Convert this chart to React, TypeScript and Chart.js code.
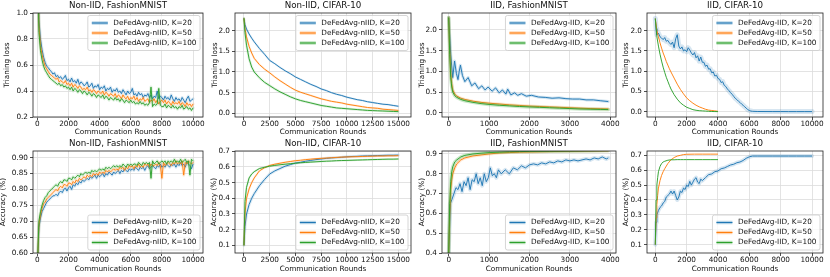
import React, { useEffect, useRef } from "react";
import { Chart, registerables } from "chart.js";

Chart.register(...registerables);

const FONT = "'DejaVu Sans', 'Liberation Sans', sans-serif";
const C_BLUE = "#1f77b4";
const C_ORANGE = "#ff7f0e";
const C_GREEN = "#2ca02c";

// ---------- tick values ----------
const XTICKS_10K = [0, 2000, 4000, 6000, 8000, 10000];
const XTICKS_15K = [0, 2500, 5000, 7500, 10000, 12500, 15000];
const XTICKS_4K = [0, 1000, 2000, 3000, 4000];
const YTICKS_LOSS_NIID_FMNIST = [0.2, 0.4, 0.6, 0.8, 1.0];
const YTICKS_LOSS = [0.0, 0.5, 1.0, 1.5, 2.0];
const YTICKS_ACC_NIID_FMNIST = [0.6, 0.65, 0.7, 0.75, 0.8, 0.85, 0.9];
const YTICKS_ACC_CIFAR = [0.1, 0.2, 0.3, 0.4, 0.5, 0.6, 0.7];
const YTICKS_ACC_IID_FMNIST = [0.4, 0.5, 0.6, 0.7, 0.8, 0.9];

const LABELS_NIID = ["DeFedAvg-nIID, K=20", "DeFedAvg-nIID, K=50", "DeFedAvg-nIID, K=100"];
const LABELS_IID = ["DeFedAvg-IID, K=20", "DeFedAvg-IID, K=50", "DeFedAvg-IID, K=100"];

// ---------- rounds ----------
const ROUNDS_10K = [0,100,200,300,400,500,600,700,800,900,1000,1100,1200,1300,1400,1500,1600,1700,1800,1900,2000,2100,2200,2300,2400,2500,2600,2700,2800,2900,3000,3100,3200,3300,3400,3500,3600,3700,3800,3900,4000,4100,4200,4300,4400,4500,4600,4700,4800,4900,5000,5100,5200,5300,5400,5500,5600,5700,5800,5900,6000,6100,6200,6300,6400,6500,6600,6700,6800,6900,7000,7100,7200,7300,7400,7500,7600,7700,7800,7900,8000,8100,8200,8300,8400,8500,8600,8700,8800,8900,9000,9100,9200,9300,9400,9500,9600,9700,9800,9900,10000];
const ROUNDS_15K = [0,100,250,500,750,1000,1500,2000,2500,3000,3500,4000,4500,5000,5500,6000,6500,7000,7500,8000,8500,9000,9500,10000,10500,11000,11500,12000,12500,13000,13500,14000,14500,15000];

// ---------- Non-IID FashionMNIST: training loss ----------
const NF_LOSS_K20 = [1.60,0.95,0.80,0.72,0.66,0.62,0.59,0.58,0.56,0.55,0.53,
0.54,0.51,0.52,0.50,0.51,0.49,0.50,0.52,0.48,0.49,
0.47,0.50,0.47,0.48,0.46,0.49,0.45,0.47,0.46,0.44,
0.45,0.47,0.43,0.44,0.46,0.42,0.44,0.43,0.45,0.41,
0.43,0.42,0.44,0.40,0.42,0.41,0.43,0.39,0.41,0.40,
0.42,0.39,0.40,0.38,0.41,0.39,0.37,0.40,0.38,0.39,
0.42,0.37,0.38,0.36,0.39,0.37,0.38,0.35,0.37,0.36,
0.38,0.35,0.37,0.34,0.36,0.35,0.40,0.34,0.36,0.35,
0.33,0.36,0.34,0.35,0.33,0.37,0.34,0.32,0.35,0.33,
0.34,0.32,0.35,0.33,0.31,0.34,0.36,0.32,0.33,0.34];
const NF_LOSS_K50 = [1.60,0.90,0.75,0.68,0.63,0.59,0.57,0.55,0.53,0.52,0.51,
0.50,0.49,0.50,0.47,0.48,0.47,0.46,0.48,0.45,0.46,
0.44,0.46,0.43,0.45,0.44,0.42,0.44,0.43,0.41,0.42,
0.41,0.43,0.40,0.41,0.39,0.41,0.40,0.38,0.40,0.39,
0.38,0.40,0.37,0.39,0.38,0.36,0.38,0.37,0.36,0.38,
0.35,0.37,0.36,0.34,0.37,0.35,0.34,0.36,0.33,0.35,
0.34,0.36,0.33,0.35,0.32,0.34,0.33,0.35,0.32,0.33,
0.34,0.31,0.33,0.32,0.34,0.31,0.33,0.30,0.32,0.33,
0.31,0.33,0.30,0.32,0.31,0.29,0.32,0.30,0.31,0.30,
0.32,0.29,0.31,0.30,0.28,0.31,0.29,0.30,0.28,0.30];
const NF_LOSS_K100 = [1.60,0.85,0.71,0.64,0.59,0.56,0.54,0.52,0.50,0.49,0.48,
0.47,0.46,0.45,0.46,0.44,0.45,0.43,0.44,0.42,0.43,
0.41,0.43,0.40,0.42,0.41,0.39,0.41,0.40,0.38,0.40,
0.39,0.37,0.39,0.38,0.36,0.38,0.37,0.35,0.37,0.36,
0.35,0.37,0.34,0.36,0.35,0.33,0.35,0.34,0.33,0.35,
0.33,0.34,0.32,0.34,0.33,0.31,0.33,0.32,0.31,0.33,
0.31,0.32,0.30,0.31,0.30,0.32,0.30,0.31,0.29,0.30,
0.29,0.31,0.43,0.28,0.30,0.29,0.30,0.42,0.29,0.28,
0.28,0.30,0.27,0.29,0.28,0.27,0.29,0.27,0.28,0.26,
0.28,0.27,0.29,0.26,0.27,0.28,0.26,0.27,0.25,0.27];

// ---------- Non-IID FashionMNIST: accuracy ----------
const NF_ACC_K20 = [0.55,0.68,0.71,0.73,0.74,0.75,0.76,0.765,0.77,0.775,0.78,
0.78,0.785,0.78,0.79,0.795,0.79,0.80,0.805,0.795,0.805,
0.81,0.80,0.815,0.81,0.82,0.815,0.825,0.82,0.83,0.825,
0.83,0.835,0.83,0.84,0.835,0.84,0.845,0.835,0.845,0.84,
0.845,0.85,0.84,0.85,0.845,0.855,0.85,0.845,0.855,0.85,
0.855,0.86,0.85,0.86,0.855,0.865,0.86,0.855,0.865,0.86,
0.865,0.86,0.87,0.865,0.86,0.87,0.865,0.87,0.86,0.87,
0.875,0.865,0.87,0.875,0.87,0.865,0.875,0.87,0.88,0.87,
0.875,0.87,0.88,0.875,0.87,0.88,0.875,0.88,0.87,0.88,
0.875,0.885,0.875,0.88,0.87,0.885,0.88,0.875,0.865,0.88];
const NF_ACC_K50 = [0.55,0.69,0.72,0.74,0.755,0.76,0.77,0.775,0.78,0.785,0.79,
0.795,0.80,0.795,0.805,0.81,0.805,0.815,0.815,0.81,0.82,
0.82,0.815,0.825,0.82,0.83,0.825,0.835,0.83,0.835,0.84,
0.835,0.845,0.84,0.845,0.84,0.85,0.845,0.85,0.845,0.855,
0.85,0.855,0.85,0.86,0.855,0.86,0.855,0.86,0.865,0.86,
0.865,0.86,0.87,0.865,0.87,0.86,0.87,0.865,0.875,0.87,
0.875,0.865,0.875,0.87,0.88,0.87,0.875,0.87,0.88,0.875,
0.88,0.87,0.88,0.875,0.875,0.88,0.875,0.885,0.875,0.835,
0.885,0.875,0.88,0.885,0.88,0.875,0.885,0.88,0.89,0.88,
0.885,0.88,0.89,0.845,0.885,0.88,0.89,0.885,0.88,0.885];
const NF_ACC_K100 = [0.55,0.70,0.73,0.75,0.765,0.775,0.78,0.79,0.795,0.80,0.805,
0.81,0.815,0.81,0.82,0.825,0.82,0.83,0.83,0.825,0.835,
0.835,0.83,0.84,0.835,0.84,0.845,0.84,0.85,0.845,0.85,
0.855,0.85,0.855,0.85,0.86,0.855,0.86,0.855,0.86,0.865,
0.86,0.865,0.86,0.87,0.865,0.87,0.865,0.87,0.875,0.87,
0.875,0.87,0.875,0.87,0.88,0.875,0.87,0.88,0.875,0.88,
0.875,0.88,0.88,0.875,0.885,0.88,0.875,0.885,0.88,0.885,
0.88,0.885,0.835,0.89,0.88,0.885,0.89,0.88,0.885,0.89,
0.885,0.89,0.88,0.89,0.885,0.89,0.885,0.895,0.885,0.89,
0.885,0.895,0.885,0.89,0.895,0.885,0.89,0.845,0.895,0.89];

// ---------- Non-IID CIFAR-10 ----------
const NC_LOSS_K20 = [2.30,2.15,2.04,1.92,1.82,1.73,1.57,1.43,1.28,1.20,1.11,1.03,0.96,0.88,0.82,0.76,0.70,0.65,0.59,0.55,0.50,0.46,0.43,0.39,0.36,0.33,0.31,0.28,0.26,0.24,0.22,0.21,0.19,0.17];
const NC_LOSS_K50 = [2.30,2.05,1.85,1.62,1.46,1.33,1.18,1.07,0.98,0.88,0.79,0.71,0.63,0.56,0.51,0.47,0.43,0.39,0.35,0.32,0.29,0.27,0.25,0.22,0.20,0.18,0.16,0.14,0.13,0.12,0.10,0.09,0.08,0.07];
const NC_LOSS_K100 = [2.30,1.95,1.65,1.32,1.12,1.00,0.86,0.75,0.67,0.59,0.52,0.46,0.40,0.35,0.31,0.28,0.25,0.22,0.19,0.17,0.15,0.13,0.12,0.11,0.10,0.09,0.08,0.07,0.065,0.06,0.055,0.05,0.045,0.04];
const NC_ACC_K20 = [0.10,0.22,0.30,0.36,0.40,0.43,0.48,0.52,0.555,0.575,0.59,0.605,0.615,0.625,0.63,0.637,0.642,0.647,0.651,0.655,0.658,0.66,0.662,0.665,0.667,0.668,0.67,0.671,0.672,0.673,0.674,0.675,0.675,0.676];
const NC_ACC_K50 = [0.10,0.30,0.40,0.46,0.50,0.53,0.575,0.595,0.61,0.618,0.624,0.63,0.635,0.64,0.643,0.647,0.65,0.653,0.655,0.657,0.659,0.661,0.663,0.664,0.665,0.666,0.667,0.668,0.669,0.67,0.67,0.671,0.671,0.672];
const NC_ACC_K100 = [0.10,0.38,0.47,0.53,0.555,0.57,0.59,0.598,0.605,0.61,0.614,0.618,0.621,0.624,0.627,0.629,0.631,0.633,0.635,0.637,0.638,0.64,0.641,0.642,0.643,0.644,0.645,0.646,0.647,0.648,0.649,0.65,0.65,0.651];

// ---------- IID FashionMNIST ----------
const IF_LOSS_K20_X = [0,50,100,145,190,230,260,290,340,400,480,570,650,740,820,900,975,1075,1160,1250,1330,1415,1460,1540,1630,1710,1800,1920,2050,2220,2390,2560,2730,2900,3070,3240,3400,3580,3750,3950];
const IF_LOSS_K20 = [2.30,1.40,0.85,1.25,0.95,0.80,1.00,1.15,0.90,0.75,0.85,0.65,0.72,0.58,0.65,0.55,0.62,0.52,0.60,0.48,0.55,0.45,0.57,0.43,0.48,0.42,0.46,0.40,0.42,0.38,0.37,0.35,0.36,0.34,0.33,0.33,0.31,0.31,0.29,0.27];
const IF_LOSS_X = [0,25,50,75,100,150,200,300,400,600,800,1000,1250,1500,1750,2000,2250,2500,2750,3000,3250,3500,3750,3950];
const IF_LOSS_K50 = [2.30,1.50,0.95,0.70,0.55,0.45,0.40,0.35,0.32,0.28,0.25,0.23,0.21,0.19,0.175,0.16,0.15,0.14,0.13,0.12,0.11,0.10,0.095,0.09];
const IF_LOSS_K100 = [2.30,1.40,0.85,0.62,0.50,0.41,0.37,0.32,0.29,0.25,0.22,0.20,0.18,0.165,0.15,0.14,0.13,0.12,0.11,0.10,0.09,0.085,0.08,0.075];
const IF_ACC_K20_X = [0,40,80,130,180,230,280,330,380,430,480,530,580,630,680,730,780,830,880,930,980,1030,1080,1130,1180,1230,1300,1400,1500,1600,1700,1800,1900,2000,2100,2200,2300,2400,2500,2600,2700,2800,2900,3000,3100,3200,3300,3400,3500,3600,3700,3800,3900,3950];
const IF_ACC_K20 = [0.40,0.65,0.67,0.70,0.73,0.72,0.75,0.71,0.76,0.74,0.78,0.72,0.77,0.76,0.80,0.75,0.78,0.74,0.80,0.76,0.78,0.83,0.79,0.80,0.78,0.82,0.80,0.82,0.80,0.83,0.82,0.84,0.83,0.845,0.85,0.845,0.855,0.85,0.86,0.855,0.865,0.86,0.87,0.865,0.87,0.865,0.87,0.875,0.87,0.88,0.875,0.885,0.875,0.88];
const IF_ACC_X = [0,25,50,75,100,150,200,300,400,600,800,1000,1250,1500,1750,2000,2500,3000,3500,3950];
const IF_ACC_K50 = [0.40,0.60,0.72,0.77,0.80,0.83,0.85,0.87,0.88,0.89,0.895,0.90,0.905,0.907,0.909,0.91,0.912,0.914,0.915,0.916];
const IF_ACC_K100 = [0.40,0.65,0.76,0.81,0.835,0.86,0.87,0.885,0.893,0.90,0.904,0.907,0.909,0.911,0.912,0.913,0.914,0.915,0.916,0.917];

// ---------- IID CIFAR-10 ----------
const IC_LOSS_K20_X = [0,50,100,200,300,400,500,600,700,800,900,1000,1100,1200,1300,1400,1500,1600,1700,1800,1900,2000,2100,2200,2300,2400,2500,2600,2700,2800,2900,3000,3100,3200,3300,3400,3500,3600,3700,3800,3900,4000,4100,4200,4300,4400,4500,4600,4700,4800,4900,5000,5100,5200,5300,5400,5500,5600,5700,5800,5900,6000,6100,6200,6500,7000,7500,8000,8500,9000,9500,10000];
const IC_LOSS_K20 = [2.30,2.05,1.90,1.94,1.85,1.82,1.78,1.83,1.74,1.76,1.70,1.66,1.72,1.58,1.80,1.90,1.62,1.55,1.60,1.50,1.53,1.48,1.58,1.52,1.45,1.40,1.46,1.33,1.38,1.25,1.35,1.22,1.22,1.12,1.15,1.05,1.06,0.96,0.98,0.88,0.90,0.82,0.80,0.72,0.74,0.65,0.62,0.56,0.52,0.47,0.43,0.38,0.33,0.30,0.26,0.23,0.19,0.16,0.12,0.09,0.05,0.03,0.015,0.01,0.005,0.004,0.003,0.003,0.002,0.002,0.002,0.002];
const IC_LOSS_X = [0,100,200,300,400,500,600,700,800,900,1000,1200,1400,1600,1800,2000,2200,2400,2600,2800,3000,3200,3400,3600,3800,4000];
const IC_LOSS_K50 = [2.30,2.00,1.85,1.70,1.57,1.45,1.35,1.24,1.15,1.06,0.98,0.83,0.68,0.55,0.44,0.34,0.27,0.21,0.16,0.12,0.09,0.06,0.04,0.03,0.02,0.01];
const IC_LOSS_K100 = [2.30,1.85,1.62,1.42,1.25,1.10,0.97,0.85,0.75,0.65,0.56,0.42,0.31,0.22,0.16,0.11,0.08,0.05,0.035,0.025,0.02,0.015,0.01,0.005,0.003,0.002];
const IC_ACC_K20_X = [0,50,100,200,300,400,500,600,700,800,900,1000,1100,1200,1300,1400,1500,1600,1700,1800,1900,2000,2100,2200,2300,2400,2500,2600,2700,2800,2900,3000,3200,3400,3600,3800,4000,4200,4400,4600,4800,5000,5200,5400,5600,5800,6000,6200,6500,7000,7500,8000,8500,9000,9500,10000];
const IC_ACC_K20 = [0.10,0.25,0.30,0.33,0.35,0.36,0.38,0.39,0.42,0.43,0.44,0.46,0.44,0.46,0.43,0.40,0.42,0.46,0.45,0.48,0.47,0.50,0.49,0.525,0.50,0.52,0.54,0.55,0.52,0.51,0.54,0.53,0.55,0.57,0.575,0.59,0.595,0.61,0.615,0.625,0.635,0.64,0.65,0.655,0.665,0.68,0.69,0.695,0.695,0.695,0.695,0.695,0.695,0.695,0.695,0.695];
const IC_ACC_X = [0,50,100,150,200,300,400,500,600,800,1000,1200,1400,1600,1800,2000,2500,3000,3500,4000];
const IC_ACC_K50 = [0.10,0.28,0.37,0.43,0.48,0.53,0.565,0.59,0.61,0.645,0.67,0.685,0.695,0.70,0.705,0.707,0.708,0.708,0.708,0.708];
const IC_ACC_K100 = [0.10,0.40,0.50,0.55,0.59,0.625,0.645,0.655,0.66,0.667,0.67,0.67,0.671,0.671,0.671,0.671,0.671,0.671,0.671,0.671];

// ---------- layout/spec types ----------
type Series = { xs: number[]; ys: number[]; color: string; band: number; bandAlpha: number };
type PanelSpec = {
  title: string; yTitle: string; labels: string[]; legendAt: "top" | "bottom";
  series: Series[];
  xMin: number; xMax: number; yMin: number; yMax: number;
  xTicks: number[]; yTicks: number[]; yDec: number;
  canvasLeft: number; L: number; R: number; rowTop: number; rowBottom: number; T: number; B: number;
  xTitleOffset: number;
};

const S = (xs: number[], ys: number[], color: string, band: number, bandAlpha = 0.15): Series => ({ xs, ys, color, band, bandAlpha });

const LOSS_TITLE = "Trianing loss";
const ACC_TITLE = "Accuracy (%)";

const PANELS: PanelSpec[] = [
  {
    title: "Non-IID, FashionMNIST", yTitle: LOSS_TITLE, labels: LABELS_NIID, legendAt: "top",
    series: [S(ROUNDS_10K, NF_LOSS_K20, C_BLUE, 3), S(ROUNDS_10K, NF_LOSS_K50, C_ORANGE, 3), S(ROUNDS_10K, NF_LOSS_K100, C_GREEN, 3)],
    xMin: -280, xMax: 10640, yMin: 0.2, yMax: 1.0, xTicks: XTICKS_10K, yTicks: YTICKS_LOSS_NIID_FMNIST, yDec: 1,
    canvasLeft: 1, L: 33, R: 203, rowTop: 0, rowBottom: 138, T: 13, B: 117, xTitleOffset: 6,
  },
  {
    title: "Non-IID, CIFAR-10", yTitle: LOSS_TITLE, labels: LABELS_NIID, legendAt: "top",
    series: [S(ROUNDS_15K, NC_LOSS_K20, C_BLUE, 2), S(ROUNDS_15K, NC_LOSS_K50, C_ORANGE, 2), S(ROUNDS_15K, NC_LOSS_K100, C_GREEN, 2.5)],
    xMin: -870, xMax: 16230, yMin: -0.09, yMax: 2.429, xTicks: XTICKS_15K, yTicks: YTICKS_LOSS, yDec: 1,
    canvasLeft: 209, L: 235, R: 411, rowTop: 0, rowBottom: 138, T: 13, B: 117, xTitleOffset: 6,
  },
  {
    title: "IID, FashionMNIST", yTitle: LOSS_TITLE, labels: LABELS_IID, legendAt: "top",
    series: [S(IF_LOSS_K20_X, IF_LOSS_K20, C_BLUE, 3, 0.2), S(IF_LOSS_X, IF_LOSS_K50, C_ORANGE, 3, 0.2), S(IF_LOSS_X, IF_LOSS_K100, C_GREEN, 3.5, 0.25)],
    xMin: -166, xMax: 4141, yMin: -0.104, yMax: 2.411, xTicks: XTICKS_4K, yTicks: YTICKS_LOSS, yDec: 1,
    canvasLeft: 416, L: 442, R: 616, rowTop: 0, rowBottom: 138, T: 13, B: 117, xTitleOffset: 6,
  },
  {
    title: "IID, CIFAR-10", yTitle: LOSS_TITLE, labels: LABELS_IID, legendAt: "top",
    series: [S(IC_LOSS_K20_X, IC_LOSS_K20, C_BLUE, 5, 0.18), S(IC_LOSS_X, IC_LOSS_K50, C_ORANGE, 0), S(IC_LOSS_X, IC_LOSS_K100, C_GREEN, 0)],
    xMin: -530, xMax: 10700, yMin: -0.131, yMax: 2.437, xTicks: XTICKS_10K, yTicks: YTICKS_LOSS, yDec: 1,
    canvasLeft: 620, L: 647, R: 823, rowTop: 0, rowBottom: 138, T: 13, B: 117, xTitleOffset: 6,
  },
  {
    title: "Non-IID, FashionMNIST", yTitle: ACC_TITLE, labels: LABELS_NIID, legendAt: "bottom",
    series: [S(ROUNDS_10K, NF_ACC_K20, C_BLUE, 3), S(ROUNDS_10K, NF_ACC_K50, C_ORANGE, 3), S(ROUNDS_10K, NF_ACC_K100, C_GREEN, 3)],
    xMin: -280, xMax: 10640, yMin: 0.6, yMax: 0.921, xTicks: XTICKS_10K, yTicks: YTICKS_ACC_NIID_FMNIST, yDec: 2,
    canvasLeft: -3, L: 33, R: 203, rowTop: 138, rowBottom: 277, T: 151, B: 253, xTitleOffset: 8,
  },
  {
    title: "Non-IID, CIFAR-10", yTitle: ACC_TITLE, labels: LABELS_NIID, legendAt: "bottom",
    series: [S(ROUNDS_15K, NC_ACC_K20, C_BLUE, 3), S(ROUNDS_15K, NC_ACC_K50, C_ORANGE, 2), S(ROUNDS_15K, NC_ACC_K100, C_GREEN, 2)],
    xMin: -870, xMax: 16230, yMin: 0.0509, yMax: 0.702, xTicks: XTICKS_15K, yTicks: YTICKS_ACC_CIFAR, yDec: 1,
    canvasLeft: 208, L: 235, R: 411, rowTop: 138, rowBottom: 277, T: 151, B: 253, xTitleOffset: 8,
  },
  {
    title: "IID, FashionMNIST", yTitle: ACC_TITLE, labels: LABELS_IID, legendAt: "bottom",
    series: [S(IF_ACC_K20_X, IF_ACC_K20, C_BLUE, 4, 0.18), S(IF_ACC_X, IF_ACC_K50, C_ORANGE, 3, 0.2), S(IF_ACC_X, IF_ACC_K100, C_GREEN, 3.5, 0.25)],
    xMin: -166, xMax: 4141, yMin: 0.4, yMax: 0.915, xTicks: XTICKS_4K, yTicks: YTICKS_ACC_IID_FMNIST, yDec: 1,
    canvasLeft: 416, L: 442, R: 616, rowTop: 138, rowBottom: 277, T: 151, B: 253, xTitleOffset: 8,
  },
  {
    title: "IID, CIFAR-10", yTitle: ACC_TITLE, labels: LABELS_IID, legendAt: "bottom",
    series: [S(IC_ACC_K20_X, IC_ACC_K20, C_BLUE, 4, 0.18), S(IC_ACC_X, IC_ACC_K50, C_ORANGE, 0), S(IC_ACC_X, IC_ACC_K100, C_GREEN, 0)],
    xMin: -530, xMax: 10700, yMin: 0.044, yMax: 0.729, xTicks: XTICKS_10K, yTicks: YTICKS_ACC_CIFAR, yDec: 1,
    canvasLeft: 620, L: 647, R: 823, rowTop: 138, rowBottom: 277, T: 151, B: 253, xTitleOffset: 8,
  },
];

const TICK_PX = 7.3;
const TITLE_PX = 8.7;
const LEGEND_PX = 7.3;
const PAD_R = 6;

function hexA(hex: string, a: number) {
  const n = parseInt(hex.slice(1), 16);
  return `rgba(${(n >> 16) & 255},${(n >> 8) & 255},${n & 255},${a})`;
}

function roundRectPath(ctx: CanvasRenderingContext2D, x: number, y: number, w: number, h: number, r: number) {
  ctx.beginPath();
  ctx.moveTo(x + r, y);
  ctx.lineTo(x + w - r, y);
  ctx.arcTo(x + w, y, x + w, y + r, r);
  ctx.lineTo(x + w, y + h - r);
  ctx.arcTo(x + w, y + h, x + w - r, y + h, r);
  ctx.lineTo(x + r, y + h);
  ctx.arcTo(x, y + h, x, y + h - r, r);
  ctx.lineTo(x, y + r);
  ctx.arcTo(x, y, x + r, y, r);
  ctx.closePath();
}

function PanelChart({ p }: { p: PanelSpec }) {
  const ref = useRef<HTMLCanvasElement | null>(null);
  const w = p.R + PAD_R - p.canvasLeft;
  const h = p.rowBottom - p.rowTop;

  useEffect(() => {
    const canvas = ref.current;
    if (!canvas) return;
    const datasets: any[] = [];
    p.series.forEach((s, i) => {
      const pts = s.xs.map((x, j) => ({ x, y: s.ys[j] }));
      if (s.band > 0) {
        datasets.push({
          data: pts, borderColor: hexA(s.color, s.bandAlpha), borderWidth: s.band, pointRadius: 0,
          borderJoinStyle: "round", borderCapStyle: "round", tension: 0, fill: false, order: 100 - i * 10,
        });
      }
      datasets.push({
        data: pts, borderColor: s.color, borderWidth: 0.95, pointRadius: 0,
        borderJoinStyle: "round", tension: 0, fill: false, order: 95 - i * 10,
      });
    });

    const decor = {
      id: "decor",
      afterDraw(chart: any) {
        const { ctx, chartArea: a } = chart;
        ctx.save();
        ctx.strokeStyle = "#222";
        ctx.lineWidth = 0.8;
        ctx.strokeRect(a.left, a.top, a.right - a.left, a.bottom - a.top);
        ctx.fillStyle = "#111";
        ctx.font = `${TITLE_PX}px ${FONT}`;
        ctx.textAlign = "center";
        ctx.textBaseline = "middle";
        ctx.fillText(p.title, (a.left + a.right) / 2, a.top - 7);
        ctx.font = `${LEGEND_PX}px ${FONT}`;
        let tw = 0;
        p.labels.forEach((l) => { tw = Math.max(tw, ctx.measureText(l).width); });
        const bw = 4 + 16 + 5.5 + tw + 3.5;
        const bh = 35;
        const bx = a.right - 3 - bw;
        const by = p.legendAt === "top" ? a.top + 2.5 : a.bottom - 3 - bh;
        roundRectPath(ctx, bx, by, bw, bh, 2);
        ctx.fillStyle = "rgba(255,255,255,0.8)";
        ctx.fill();
        ctx.strokeStyle = "#cccccc";
        ctx.lineWidth = 0.8;
        ctx.stroke();
        p.labels.forEach((lab, i) => {
          const cy = by + 7.5 + i * 10;
          const col = p.series[i].color;
          ctx.lineCap = "butt";
          ctx.strokeStyle = hexA(col, 0.3);
          ctx.lineWidth = 3.5;
          ctx.beginPath(); ctx.moveTo(bx + 4, cy); ctx.lineTo(bx + 20, cy); ctx.stroke();
          ctx.strokeStyle = col;
          ctx.lineWidth = 1.1;
          ctx.beginPath(); ctx.moveTo(bx + 4, cy); ctx.lineTo(bx + 20, cy); ctx.stroke();
          ctx.fillStyle = "#111";
          ctx.textAlign = "left";
          ctx.textBaseline = "middle";
          ctx.fillText(lab, bx + 25.5, cy);
        });
        ctx.restore();
      },
    };

    const tickFont = { family: FONT, size: TICK_PX };
    const half = (TICK_PX * 1.2) / 2;
    const chart = new Chart(canvas, {
      type: "line",
      data: { datasets },
      options: {
        responsive: false,
        animation: false,
        devicePixelRatio: 1,
        events: [],
        layout: { padding: { left: 0, right: PAD_R, top: p.T - p.rowTop, bottom: 0 } },
        plugins: { legend: { display: false }, tooltip: { enabled: false }, title: { display: false } },
        scales: {
          x: {
            type: "linear", min: p.xMin, max: p.xMax,
            afterBuildTicks: (sc: any) => { sc.ticks = p.xTicks.map((v) => ({ value: v })); },
            afterFit: (sc: any) => { sc.height = p.rowBottom - p.B; },
            ticks: { font: tickFont, color: "#111", padding: 0, maxRotation: 0, autoSkip: false, callback: (v: any) => String(v) },
            grid: { color: "#dcdcdc", lineWidth: 0.8, tickLength: 3, tickColor: "#222", tickWidth: 0.8, drawTicks: true },
            border: { display: false },
            title: { display: true, text: "Communication Rounds", font: tickFont, color: "#111", padding: { top: 0, bottom: p.xTitleOffset - half } },
          },
          y: {
            type: "linear", min: p.yMin, max: p.yMax,
            afterBuildTicks: (sc: any) => { sc.ticks = p.yTicks.map((v) => ({ value: v })); },
            afterFit: (sc: any) => { sc.width = p.L - p.canvasLeft; },
            ticks: { font: tickFont, color: "#111", padding: 2, autoSkip: false, callback: (v: any) => Number(v).toFixed(p.yDec) },
            grid: { color: "#dcdcdc", lineWidth: 0.8, tickLength: 3, tickColor: "#222", tickWidth: 0.8, drawTicks: true },
            border: { display: false },
            title: { display: true, text: p.yTitle, font: tickFont, color: "#111", padding: { top: 6 - half, bottom: 0 } },
          },
        },
      } as any,
      plugins: [decor],
    });
    return () => chart.destroy();
  }, []);

  return (
    <canvas
      ref={ref}
      width={w}
      height={h}
      style={{ position: "absolute", left: p.canvasLeft, top: p.rowTop, width: w, height: h, display: "block" }}
    />
  );
}

export default function App() {
  return (
    <div style={{ position: "absolute", left: 0, top: 0, width: 830, height: 277, overflow: "hidden", background: "#fff" }}>
      {PANELS.map((p, i) => (
        <PanelChart key={i} p={p} />
      ))}
    </div>
  );
}
